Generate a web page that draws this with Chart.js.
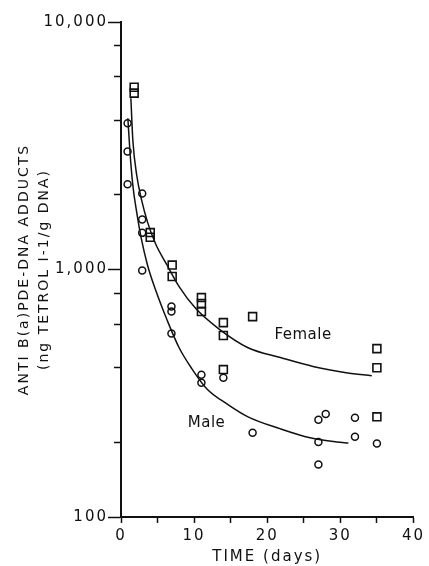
<!DOCTYPE html>
<html>
<head>
<meta charset="utf-8">
<script src="https://cdn.jsdelivr.net/npm/chart.js@4"></script>
<style>
  html, body { margin: 0; padding: 0; background: #fff; }
  #wrap { width: 429px; height: 566px; position: relative; }
</style>
</head>
<body>
<div id="wrap"><canvas id="c"></canvas></div>
<script>
// ---- data ----
const femaleDays = [1.8, 1.8, 4, 4, 7, 7, 11, 11, 11, 14, 14, 14, 18, 35, 35, 35];
const femaleVals = [5450, 5160, 1410, 1350, 1042, 937, 770, 728, 676, 610, 541, 394, 645, 479, 401, 254];

const maleDays = [0.9, 0.9, 0.9, 2.9, 2.9, 2.9, 2.9, 6.9, 6.9, 6.9, 11, 11, 14, 18, 27, 27, 27, 28, 32, 32, 35];
const maleVals = [3900, 3000, 2210, 2030, 1594, 1406, 991, 708, 676, 551, 376, 349, 365, 219, 247, 201, 163, 261, 252, 211, 198];

const femaleCurveDays = [1.35, 1.62, 2.15, 2.83, 3.64, 4.71, 6.33, 7.95, 10.23, 13.33, 17.37, 21.8, 26.4, 30.8, 34.3];
const femaleCurveVals = [4920, 3327, 2403, 1903, 1550, 1274, 1038, 853, 695, 577, 483, 441, 405, 383, 372];

const maleCurveDays = [0.94, 1.21, 1.62, 2.15, 2.83, 3.64, 4.71, 6.33, 7.95, 9.7, 11.72, 14.68, 17.37, 21.82, 25.86, 29.5, 31.1];
const maleCurveVals = [4085, 3033, 2188, 1702, 1310, 1038, 830, 622, 483, 397, 330, 284, 254, 227, 209, 201, 199];

const yTickValues = [100, 200, 400, 600, 800, 1000, 2000, 4000, 6000, 8000, 10000];
const yLabelled = [100, 1000, 10000];
const xLabelled = [0, 10, 20, 30, 40];

const seriesLabels = [
  { text: 'Female', day: 24.9, value: 541 },
  { text: 'Male', day: 11.7, value: 240 }
];

const xTitle = 'TIME (days)';
const yTitle = ['ANTI B(a)PDE-DNA ADDUCTS', '(ng TETROL I-1/g DNA)'];

// ---- helpers ----
const toXY = (xs, ys) => xs.map((x, i) => ({ x, y: ys[i] }));
const INK = '#111';
const FONT = 'DejaVu Sans';

const spacingPlugin = {
  id: 'spacing',
  beforeLayout(c) { c.ctx.letterSpacing = '2px'; },
  beforeDraw(c) { c.ctx.letterSpacing = '2px'; }
};

const labelPlugin = {
  id: 'seriesLabels',
  afterDraw(c) {
    const ctx = c.ctx, xs = c.scales.x, ys = c.scales.y;
    ctx.save();
    ctx.letterSpacing = '0.5px';
    ctx.font = '15px ' + FONT;
    ctx.fillStyle = INK;
    ctx.textAlign = 'center';
    ctx.textBaseline = 'middle';
    seriesLabels.forEach(l => ctx.fillText(l.text, xs.getPixelForValue(l.day), ys.getPixelForValue(l.value)));
    ctx.restore();
  }
};

new Chart(document.getElementById('c'), {
  type: 'scatter',
  data: {
    datasets: [
      {
        label: 'Female fit', type: 'line', data: toXY(femaleCurveDays, femaleCurveVals),
        borderColor: INK, borderWidth: 1.5, pointRadius: 0, fill: false,
        cubicInterpolationMode: 'monotone'
      },
      {
        label: 'Male fit', type: 'line', data: toXY(maleCurveDays, maleCurveVals),
        borderColor: INK, borderWidth: 1.5, pointRadius: 0, fill: false,
        cubicInterpolationMode: 'monotone'
      },
      {
        label: 'Female', data: toXY(femaleDays, femaleVals),
        pointStyle: 'rect', pointRadius: 5.6, borderWidth: 1.6,
        borderColor: INK, backgroundColor: 'rgba(255,255,255,0)'
      },
      {
        label: 'Male', data: toXY(maleDays, maleVals),
        pointStyle: 'circle', pointRadius: 3.5, borderWidth: 1.5,
        borderColor: INK, backgroundColor: 'rgba(255,255,255,0)'
      }
    ]
  },
  options: {
    responsive: true,
    maintainAspectRatio: false,
    animation: false,
    layout: { padding: { top: 22, right: 11, left: 0, bottom: 0 } },
    plugins: { legend: { display: false }, tooltip: { enabled: false } },
    scales: {
      x: {
        type: 'linear', min: 0, max: 40,
        ticks: {
          stepSize: 5, color: INK, padding: 4,
          font: { family: FONT, size: 15 },
          maxRotation: 0,
          callback: v => xLabelled.includes(v) ? String(v) : ''
        },
        grid: { drawOnChartArea: false, drawTicks: true, tickLength: 6, tickColor: INK, tickWidth: 1.5 },
        border: { display: true, color: INK, width: 2 },
        title: { display: true, text: xTitle, color: INK, font: { family: FONT, size: 15 }, padding: { top: 0, bottom: 0 } },
        afterFit(s) { s.height = 49; }
      },
      y: {
        type: 'logarithmic', min: 100, max: 10000,
        afterBuildTicks(s) { s.ticks = yTickValues.map(v => ({ value: v })); },
        ticks: {
          color: INK, padding: 0,
          font: { family: FONT, size: 15 },
          callback: v => yLabelled.includes(v) ? v.toLocaleString('en-US') : ''
        },
        grid: {
          drawOnChartArea: false, drawTicks: true, tickLength: 13, tickColor: INK, tickWidth: 1.5,
          tickBorderDash: ctx => (ctx.tick && yLabelled.includes(ctx.tick.value)) ? [] : [0, 6, 7, 100]
        },
        border: { display: true, color: INK, width: 2 },
        title: {
          display: true, text: yTitle, color: INK,
          font: { family: FONT, size: 14, lineHeight: 1.43 }, padding: { top: 14, bottom: 0 }
        },
        afterFit(s) { s.width = 121; }
      }
    }
  },
  plugins: [spacingPlugin, labelPlugin]
});
</script>
</body>
</html>
